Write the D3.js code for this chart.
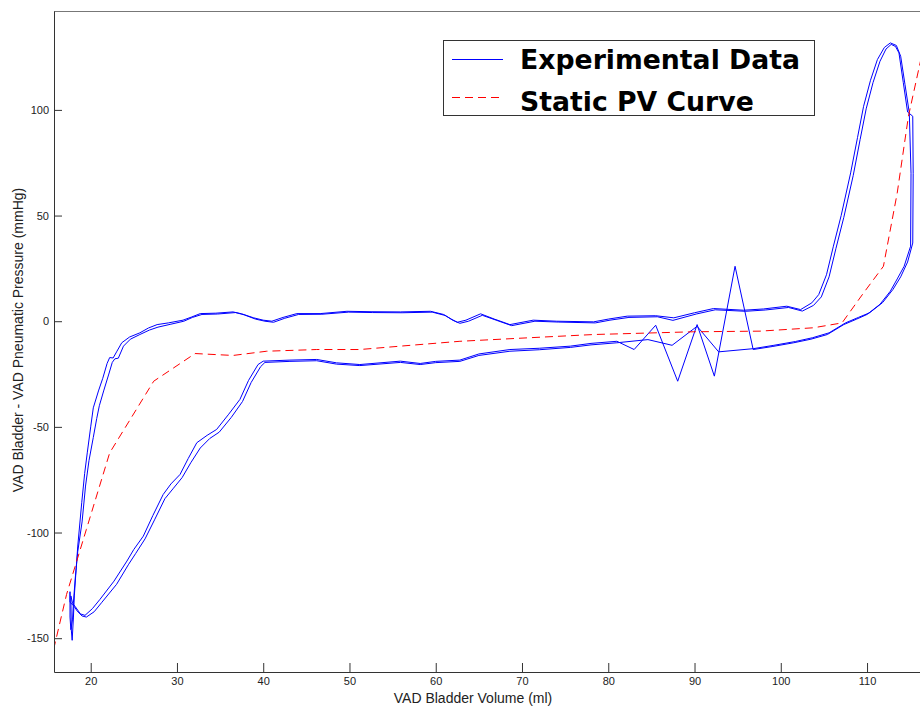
<!DOCTYPE html>
<html>
<head>
<meta charset="utf-8">
<script src="https://cdn.jsdelivr.net/npm/d3@7"></script>
<style>
  body { margin: 0; background: #fff; }
  svg { display: block; }
  .tick text { font-family: "Liberation Sans", Arial, sans-serif; font-size: 11px; fill: #222; }
  .axis-label { font-family: "Liberation Sans", Arial, sans-serif; font-size: 14px; fill: #222; }
  .legend-text { font-family: "DejaVu Sans", Verdana, sans-serif; font-weight: bold; font-size: 26.7px; fill: #000; }
</style>
</head>
<body>
<svg id="chart"></svg>
<script>
// axis limits and ticks
var xLimits = [15.745, 116.14];
var yLimits = [-166, 146.8];
var xTicks = [20, 30, 40, 50, 60, 70, 80, 90, 100, 110];
var yTicks = [-150, -100, -50, 0, 50, 100];

// experimental data, first cycle (volume ml, pressure mmHg)
var cycle1 = [
  [22.2,-17.2],[22.6,-17.4],[23.0,-14.5],[23.6,-10.2],[24.5,-7.5],[25.7,-5.5],[26.7,-3.2],[27.7,-1.6],
  [29,-0.8],[30.7,0.5],[31.7,2],[32.7,3.6],[34.5,3.8],[36.5,4.4],[37.5,3.5],[38.9,1.6],[40,0.5],[41,0],
  [42.3,1.8],[43.9,3.6],[46.6,3.6],[49.7,4.7],[52.5,4.5],[55.9,4.4],[59.4,4.7],[60.9,3.2],[61.8,1],
  [62.5,-0.5],[63.5,0.5],[65.2,3.5],[66.8,1],[68.6,-1.6],[71.3,0.5],[74,0],[78.3,-0.3],[80,1],[82.2,2.4],
  [85.5,2.6],[87.6,1.6],[90,4],[92.2,6],[95.7,5.2],[98,5.8],[100.7,7.1],[102.3,5.5],[103.6,8.7],
  [104.4,12.6],[105.3,22],[106.1,35.5],[107,50],[108.1,70.2],[108.9,87],[109.6,101.7],[110.4,114],
  [111.2,123.8],[112,129.5],[112.7,131.7],[113.4,130.5],[113.9,125.4],[114.4,112],[114.9,98.6],
  [115.1,70],[115.05,35.5],[114.3,26],[113.5,20],[112.7,14.2],[111.5,8],[110,3.2],[108.8,1],
  [107.3,-1.6],[105.4,-6.3],[103.5,-8.5],[101.5,-10.2],[99,-12],[96.8,-13.4],[94.7,26],[92.3,-26],
  [90.3,-1.6],[88.05,-28.4],[85.5,-1.9],[83,-13.4],[81,-9.5],[78,-10.5],[75.6,-11.8],[72,-12.8],
  [68.6,-13.4],[65,-15.5],[62.8,-18.4],[60,-19],[58.2,-20],[55.9,-18.9],[51.2,-20.5],[48.5,-19.7],
  [46.2,-18.1],[43.1,-18.4],[40,-18.9],[39.4,-20.5],[38.3,-28],[37.3,-37],[36,-44],[34.6,-51.2],
  [33.5,-54],[32.3,-57.5],[31.3,-65],[30.36,-72.5],[29.3,-77],[28.4,-82],[27.2,-92],[26.1,-101.7],
  [25,-108],[24.2,-113.5],[22.7,-123],[21.08,-131.6],[20.2,-136],[19.34,-139.2],[18.8,-138.5],
  [18.2,-135],[17.9,-133.5],[17.7,-130],[17.75,-146],[17.85,-151],[18,-140],[18.1,-130],[18.3,-118],
  [18.5,-106.4],[18.96,-85.9],[19.3,-72],[19.6,-62.3],[20,-50],[20.3,-41],[20.9,-33],[21.4,-27],
  [21.9,-20],[22.2,-17.2]
];

// experimental data, second cycle
var cycle2 = [
  [22.8,-17.8],[23.2,-17.5],[23.8,-11.8],[24.6,-8.5],[25.7,-6.3],[26.8,-4.2],[27.8,-2.8],[29.3,-1.4],
  [30.8,0],[31.8,1.8],[32.9,3.2],[34.7,3.4],[36.8,4.1],[37.8,3],[39.1,1],[40.2,0],[41.2,-0.5],
  [42.5,1.4],[44.1,3.2],[46.8,3.3],[49.9,4.3],[52.7,4.1],[56.1,4],[59.6,4.3],[61.1,2.7],[62,0.4],
  [62.8,-1],[63.8,0],[65.4,2.8],[67,0.5],[68.8,-2.1],[71.5,0],[74.2,-0.4],[78.5,-0.8],[80.2,0.5],
  [82.4,1.8],[85.7,2.1],[87.5,0.4],[90.2,3.4],[92.4,5.4],[95.9,4.7],[98.2,5.3],[100.9,6.5],
  [102.5,4.8],[103.8,7.5],[104.7,11.5],[105.6,21],[106.4,34.5],[107.3,49],[108.4,69],[109.2,86],
  [109.9,100.5],[110.7,113],[111.5,123],[112.2,128.8],[112.8,131],[113.3,130],[113.7,127],
  [114.2,113],[114.7,99],[115.3,97],[115.35,70],[115.3,37],[114.7,28],[113.9,21],[113,15],
  [111.8,8.8],[110.3,4],[109,1.8],[107.5,-0.8],[105.6,-5.5],[103.7,-7.8],[101.7,-9.6],[99.2,-11.4],
  [96.8,-13],[92.8,-14.5],[90.3,-2.4],[87.4,-11.4],[84.6,-8.7],[81,-10.2],[78,-11.2],[75.6,-12.4],
  [72,-13.5],[68.6,-14.2],[65,-16.2],[62.8,-19],[60,-19.6],[58.2,-20.5],[55.9,-19.5],[51.2,-21],
  [48.5,-20.3],[46.2,-18.7],[43.1,-19],[40.2,-19.5],[39.7,-21.5],[38.6,-29],[37.6,-38],[36.3,-45.5],
  [34.9,-52.5],[33.8,-55.5],[32.7,-60],[31.6,-67],[30.6,-74],[29.6,-79],[28.6,-84],[27.4,-94],
  [26.3,-103],[25.2,-110],[24.4,-115],[23,-124.5],[21.3,-133],[20.4,-137.5],[19.5,-140],[19,-139.5],
  [18.4,-137],[18.1,-135],[17.6,-133],[17.6,-128],[17.6,-140],[17.7,-146],[17.9,-141],[18,-133],
  [18.2,-122],[18.5,-109],[19.0,-95],[19.4,-78],[19.8,-66],[20.3,-55],[20.7,-46],[21.0,-40],
  [21.5,-33],[22.1,-25],[22.5,-19.5],[22.8,-17.8]
];

// static PV curve
var staticVol = [15.7, 17.2, 19.5, 22.2, 27.3, 32.1, 36.5, 40.4, 46.2, 51.2, 55.9, 62.8, 70, 78.3, 89.9, 97.6, 103.8, 107.1, 109.6, 111.9, 113.5, 114.8, 116.3];
var staticPres = [-155.3, -129.3, -98.5, -62.3, -28.4, -15.3, -16.2, -14.2, -13.4, -13.4, -11.8, -9.5, -8, -6.3, -5, -4.7, -3.1, -0.8, 13.4, 26, 60.7, 97, 125];

var legendNames = ["Experimental Data", "Static PV Curve"];

var width = 920, height = 706;
var margin = { left: 54, top: 11, bottom: 34, right: 0 };

var svg = d3.select("#chart").attr("width", width).attr("height", height);

var x = d3.scaleLinear().domain(xLimits).range([margin.left, width - margin.right]);
var y = d3.scaleLinear().domain(yLimits).range([height - margin.bottom, margin.top]);

svg.append("defs").append("clipPath").attr("id", "plot-clip")
  .append("rect")
  .attr("x", margin.left).attr("y", margin.top)
  .attr("width", width - margin.left).attr("height", height - margin.bottom - margin.top);

// frame: top edge is lighter, as in the original
svg.append("line")
  .attr("x1", margin.left).attr("x2", width)
  .attr("y1", margin.top + 0.5).attr("y2", margin.top + 0.5)
  .style("stroke", "#777").style("stroke-width", 1);

var line = d3.line()
  .x(function(d) { return x(d[0]); })
  .y(function(d) { return y(d[1]); });

var plot = svg.append("g").attr("clip-path", "url(#plot-clip)");

[cycle1, cycle2].forEach(function(c) {
  plot.append("path")
    .datum(c)
    .attr("d", line)
    .style("fill", "none")
    .style("stroke", "#0000ff")
    .style("stroke-width", 1);
});

plot.append("path")
  .datum(staticVol.map(function(v, i) { return [v, staticPres[i]]; }))
  .attr("d", line)
  .style("fill", "none")
  .style("stroke", "#ff0000")
  .style("stroke-width", 1)
  .style("stroke-dasharray", "8,5");

// axes, ticks pointing inward
var xAxis = svg.append("g")
  .attr("transform", "translate(0," + (height - margin.bottom) + ")")
  .call(d3.axisBottom(x).tickValues(xTicks).tickSizeInner(-9).tickSizeOuter(0).tickPadding(5));

var yAxis = svg.append("g")
  .attr("transform", "translate(" + margin.left + ",0)")
  .call(d3.axisLeft(y).tickValues(yTicks).tickSizeInner(-8).tickSizeOuter(0).tickPadding(5)
    .tickFormat(function(d) { return String(d).replace("\u2212", "-"); }));

[xAxis, yAxis].forEach(function(a) {
  a.select(".domain").style("stroke", "#333");
  a.selectAll(".tick line").style("stroke", "#333");
});

svg.append("text")
  .attr("class", "axis-label")
  .attr("x", 473).attr("y", 703)
  .attr("text-anchor", "middle")
  .text("VAD Bladder Volume (ml)");

svg.append("text")
  .attr("class", "axis-label")
  .attr("transform", "translate(23,340) rotate(-90)")
  .attr("text-anchor", "middle")
  .text("VAD Bladder - VAD Pneumatic Pressure (mmHg)");

// legend
var legend = svg.append("g").attr("class", "legend");

legend.append("rect")
  .attr("x", 443.5).attr("y", 40.5)
  .attr("width", 371).attr("height", 75)
  .style("fill", "#fff").style("stroke", "#333").style("stroke-width", 1);

legend.append("line")
  .attr("x1", 452).attr("x2", 503).attr("y1", 59.5).attr("y2", 59.5)
  .style("stroke", "#0000ff").style("stroke-width", 1);

legend.append("line")
  .attr("x1", 452).attr("x2", 503).attr("y1", 97.5).attr("y2", 97.5)
  .style("stroke", "#ff0000").style("stroke-width", 1).style("stroke-dasharray", "8,5");

legend.selectAll("text.legend-text")
  .data(legendNames)
  .enter().append("text")
  .attr("class", "legend-text")
  .attr("x", 520)
  .attr("y", function(d, i) { return i === 0 ? 69 : 110.5; })
  .text(function(d) { return d; });
</script>
</body>
</html>
